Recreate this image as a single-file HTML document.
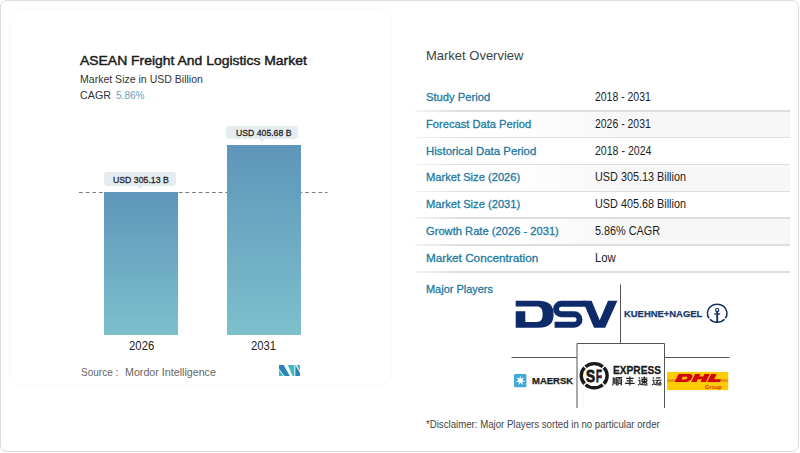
<!DOCTYPE html>
<html><head><meta charset="utf-8">
<style>
html,body{margin:0;padding:0;}
body{width:800px;height:453px;position:relative;overflow:hidden;background:#fff;font-family:"Liberation Sans",sans-serif;color:#222;}
.abs{position:absolute;white-space:nowrap;}
#frame{position:absolute;left:0;top:0;width:797.4px;height:450.4px;border:1.3px solid #dcdcdc;border-radius:7px;}
#card{position:absolute;left:11px;top:9px;width:380px;height:376px;border-radius:13px;background:#fff;box-shadow:0 0 3px rgba(0,0,0,0.06);}
.t{position:absolute;white-space:nowrap;transform-origin:0 50%;line-height:1;}
.sep{position:absolute;left:415px;width:375px;height:1.5px;background:linear-gradient(90deg,rgba(222,222,222,0.35),#dedede 12%,#dedede);}
.band{position:absolute;left:415px;width:375px;background:linear-gradient(90deg,rgba(247,247,247,0) 24%,#f7f7f7 55%,#f7f7f7 100%);}
.bar{position:absolute;background:linear-gradient(180deg,#5e95ba,#7dc0cc);}
.tag{position:absolute;background:#e5ecef;border-radius:3px;}
.tag:after{content:"";position:absolute;left:50%;margin-left:-3px;bottom:-3px;border-left:3px solid transparent;border-right:3px solid transparent;border-top:3.5px solid #e5ecef;}
</style></head><body>
<div id="frame"></div>
<div id="card"></div>

<!-- chart -->
<svg class="abs" style="left:0;top:0" width="400" height="453"><line x1="79" y1="192.5" x2="327.5" y2="192.5" stroke="#7c7c7c" stroke-width="1" stroke-dasharray="3.8 2.85"/></svg>
<div class="bar" style="left:104.3px;top:192.3px;width:73.7px;height:142.4px;"></div>
<div class="bar" style="left:226.8px;top:145px;width:74.2px;height:189.7px;"></div>
<div class="tag" style="left:104.4px;top:172.4px;width:71.6px;height:14px;"></div>
<div class="tag" style="left:226.3px;top:125.5px;width:72.1px;height:13.5px;"></div>
<svg class="abs" style="left:278.8px;top:364.9px" width="21.2" height="11" viewBox="0 0 21.2 11">
 <polygon points="0,0 4.7,0 10.8,11 5.5,11 0,3.8" fill="#2b85b5"/>
 <polygon points="0,5 4.6,11 0,11" fill="#40b8c4"/>
 <polygon points="8.8,0 15.4,0 15.4,11 13.6,11" fill="#40b8c4"/>
 <polygon points="16.3,0 21.2,8 21.2,11 16.3,11" fill="#2b85b5"/>
 <polygon points="17.6,0 21.2,0 21.2,6.2" fill="#40b8c4"/>
</svg>

<!-- right -->
<div class="band" style="top:111.6px;height:25.8px"></div>
<div class="band" style="top:165.3px;height:25.8px"></div>
<div class="band" style="top:218.9px;height:25.8px"></div>

<div class="sep" style="top:110.1px"></div>
<div class="sep" style="top:136.9px"></div>
<div class="sep" style="top:163.7px"></div>
<div class="sep" style="top:190.5px"></div>
<div class="sep" style="top:217.4px"></div>
<div class="sep" style="top:244.2px"></div>
<div class="sep" style="top:271.1px"></div>

<div class="t" style="left:80.00px;top:54px;font-size:13.4px;color:#1b1b1b;transform:scaleX(1.0402);-webkit-text-stroke:0.45px #1b1b1b;">ASEAN Freight And Logistics Market</div>
<div class="t" style="left:80.00px;top:74px;font-size:10.9px;color:#333;transform:scaleX(0.9670);">Market Size in USD Billion</div>
<div class="t" style="left:80.00px;top:90px;font-size:11.2px;color:#333;transform:scaleX(0.9577);">CAGR</div>
<div class="t" style="left:116.40px;top:90px;font-size:11.2px;color:#6a9fbd;transform:scaleX(0.9007);">5.86%</div>
<div class="t" style="left:112.60px;top:175px;font-size:9.8px;color:#1f1f1f;transform:scaleX(0.8904);-webkit-text-stroke:0.3px #1f1f1f;">USD 305.13 B</div>
<div class="t" style="left:235.90px;top:128px;font-size:9.8px;color:#1f1f1f;transform:scaleX(0.8856);-webkit-text-stroke:0.3px #1f1f1f;">USD 405.68 B</div>
<div class="t" style="left:128.50px;top:340px;font-size:12.2px;color:#222;transform:scaleX(0.9320);">2026</div>
<div class="t" style="left:251.30px;top:340px;font-size:12.2px;color:#222;transform:scaleX(0.9247);">2031</div>
<div class="t" style="left:81.40px;top:367px;font-size:11.2px;color:#666;transform:scaleX(0.8953);">Source :</div>
<div class="t" style="left:124.60px;top:367px;font-size:11.2px;color:#666;transform:scaleX(0.9553);">Mordor Intelligence</div>
<div class="t" style="left:426.25px;top:50px;font-size:12.6px;color:#3a3f47;transform:scaleX(1.0311);">Market Overview</div>
<div class="t" style="left:425.70px;top:91px;font-size:11.6px;color:#21799f;transform:scaleX(0.9682);-webkit-text-stroke:0.3px #21799f;">Study Period</div>
<div class="t" style="left:595.20px;top:91px;font-size:12px;color:#1c1c1c;transform:scaleX(0.8708);">2018 - 2031</div>
<div class="t" style="left:425.70px;top:118px;font-size:11.6px;color:#21799f;transform:scaleX(0.9606);-webkit-text-stroke:0.3px #21799f;">Forecast Data Period</div>
<div class="t" style="left:595.20px;top:118px;font-size:12px;color:#1c1c1c;transform:scaleX(0.8708);">2026 - 2031</div>
<div class="t" style="left:425.70px;top:145px;font-size:11.6px;color:#21799f;transform:scaleX(0.9833);-webkit-text-stroke:0.3px #21799f;">Historical Data Period</div>
<div class="t" style="left:595.20px;top:145px;font-size:12px;color:#1c1c1c;transform:scaleX(0.8801);">2018 - 2024</div>
<div class="t" style="left:425.70px;top:171px;font-size:11.6px;color:#21799f;transform:scaleX(0.9620);-webkit-text-stroke:0.3px #21799f;">Market Size (2026)</div>
<div class="t" style="left:595.20px;top:171px;font-size:12px;color:#1c1c1c;transform:scaleX(0.9033);">USD 305.13 Billion</div>
<div class="t" style="left:425.70px;top:198px;font-size:11.6px;color:#21799f;transform:scaleX(0.9620);-webkit-text-stroke:0.3px #21799f;">Market Size (2031)</div>
<div class="t" style="left:595.20px;top:198px;font-size:12px;color:#1c1c1c;transform:scaleX(0.9033);">USD 405.68 Billion</div>
<div class="t" style="left:425.70px;top:225px;font-size:11.6px;color:#21799f;transform:scaleX(0.9632);-webkit-text-stroke:0.3px #21799f;">Growth Rate (2026 - 2031)</div>
<div class="t" style="left:595.20px;top:225px;font-size:12px;color:#1c1c1c;transform:scaleX(0.9034);">5.86% CAGR</div>
<div class="t" style="left:425.70px;top:252px;font-size:11.6px;color:#21799f;transform:scaleX(1.0127);-webkit-text-stroke:0.3px #21799f;">Market Concentration</div>
<div class="t" style="left:595.20px;top:252px;font-size:12px;color:#1c1c1c;transform:scaleX(0.9446);">Low</div>
<div class="t" style="left:426.00px;top:283px;font-size:11.6px;color:#21799f;transform:scaleX(0.9445);-webkit-text-stroke:0.3px #21799f;">Major Players</div>
<div class="t" style="left:425.70px;top:419px;font-size:10.5px;color:#444;transform:scaleX(0.9186);">*Disclaimer: Major Players sorted in no particular order</div>

<svg class="abs" style="left:0;top:0" width="800" height="453" viewBox="0 0 800 453">
 <!-- grid lines -->
 <g stroke="#555" stroke-width="1" fill="none">
  <line x1="620.5" y1="284.5" x2="620.5" y2="343.5"/>
  <line x1="511.5" y1="357.5" x2="577" y2="357.5"/>
  <line x1="664" y1="357.5" x2="729.5" y2="357.5"/>
  <path d="M577,408 V343.5 H664.5 V408"/>
 </g>
 <!-- DSV -->
 <g fill="#0e2b69">
  <path d="M515.7,300.7 H538 C549.5,300.7 553.6,305.5 553.6,314.2 C553.6,323 549.5,327.7 538,327.7 H515.7 V311.2 H525.3 V321.9 H536.5 C541,321.9 542.6,319.5 542.6,314.2 C542.6,309 541,306.5 536.5,306.5 H515.7 Z"/>
  <polygon points="582.7,300.8 591.6,300.8 599.7,320.3 608,300.8 617.4,300.8 605.2,327.8 594,327.8"/>
 </g>
 <path d="M586,303.7 H561.3 A5.3,5.3 0 0 0 561.3,314.3 H574.3 A5.25,5.25 0 0 1 574.3,324.8 H554.6" fill="none" stroke="#0e2b69" stroke-width="5.9"/>
 <!-- Kuehne+Nagel anchor -->
 <g fill="none" stroke="#14305f">
  <path d="M724.54,319.16 A9.8,9.0 0 0 1 709.86,319.16 M709.08,318.23 A9.8,9.0 0 1 1 725.32,318.23" stroke-width="1.5"/>
  <circle cx="717.2" cy="310.1" r="1.6" stroke-width="1.2"/>
  <line x1="717.2" y1="311.8" x2="717.2" y2="322.5" stroke-width="1.9"/>
  <line x1="714.2" y1="314" x2="720.2" y2="314" stroke-width="1.3"/>
 </g>
 <!-- Maersk -->
 <rect x="514" y="373.9" width="12.4" height="13.4" rx="1.2" fill="#41a9d6"/>
 <polygon fill="#fff" points="520.2,375.6 521.1,378.7 523.9,377.3 522.3,380.1 525.2,381.4 522.1,381.8 523,384.9 520.6,382.8 518.4,385.1 518.9,381.9 515.7,381.8 518.4,380.1 516.6,377.4 519.5,378.6"/>
 <!-- SF -->
 <path d="M602.83,384.72 A12.95,12.1 0 0 1 585.57,384.72 M584.55,383.77 A12.95,12.1 0 0 1 584.55,367.63 M585.57,366.68 A12.95,12.1 0 0 1 602.83,366.68 M603.85,367.63 A12.95,12.1 0 0 1 603.85,383.77" fill="none" stroke="#1a1a1a" stroke-width="3.4"/>
 <!-- DHL -->
 <rect x="667" y="371.9" width="61.2" height="18.2" fill="#ffcb05"/>
 <rect x="667" y="379.4" width="10" height="2.4" fill="#e8901a"/>
 <rect x="718" y="379.4" width="10.2" height="2.4" fill="#e8901a"/>
 <g transform="translate(674.6,382) skewX(-27) scale(1.0976,1)" fill="#d40511">
  <path d="M0,0 V-7.9 H9 C13,-7.9 14,-6 14,-4 C14,-1.5 12.5,0 9,0 Z M5,-2.6 H8.2 C9.3,-2.6 9.6,-3.2 9.6,-4 C9.6,-4.8 9.3,-5.3 8.2,-5.3 H5 Z"/>
  <path d="M15,0 V-7.9 H20 V-5.4 H23.5 V-7.9 H28.5 V0 H23.5 V-2.7 H20 V0 Z"/>
  <path d="M29.7,0 V-7.9 H34.7 V-2.7 H41 V0 Z"/>
 </g>
 <!-- Chinese glyph approximations -->
 <g stroke="#222" stroke-width="1.25" fill="none">
  <path transform="translate(612.5,376.6) scale(0.95,0.9)" d="M0.8,0.8 V6.5 Q0.8,8.5 0,9.7 M2.4,1.2 V8.2 M4.0,0.5 V9.8 M5,1 H10 M7.6,1 L7.1,2.5 M5.6,2.7 H9.4 V7.2 H5.6 Z M5.6,4.95 H9.4 M6.8,7.4 L5.1,9.7 M8.2,7.4 L10,9.7"/>
  <path transform="translate(625.1,376.6) scale(0.95,0.9)" d="M1,2 H9 M1.6,4.8 H8.4 M0,7.5 H10 M5,0 V10"/>
  <path transform="translate(638.0,376.6) scale(0.95,0.9)" d="M0.8,0.8 L2.1,2.1 M0.2,4 H2 V7.6 M0,9.7 Q1.2,7.7 2.4,8.4 Q4,9.4 10,9.2 M3.4,1.6 H10 M6.7,0 V8 M4.2,3.3 H9.2 V5.5 H4.2 Z M6.7,5.5 L3.8,7.9 M6.7,5.5 L9.8,7.9"/>
  <path transform="translate(652.0,376.6) scale(0.95,0.9)" d="M0.8,0.8 L2.1,2.1 M0.2,4 H2 V7.6 M0,9.7 Q1.2,7.7 2.4,8.4 Q4,9.4 10,9.2 M4.4,1.4 H9 M3.4,4 H10 M6.4,4 L4.5,7.4 H9.3 M8,5.6 L9.8,7.9"/>
 </g>
</svg>
<div class="t" style="left:623.70px;top:310px;font-size:9.1px;color:#173a6e;transform:scaleX(1.0361);font-weight:bold;-webkit-text-stroke:0.25px #173a6e;">KUEHNE+NAGEL</div>
<div class="t" style="left:532.00px;top:377px;font-size:8.4px;color:#1a1a1a;transform:scaleX(1.1314);font-weight:bold;-webkit-text-stroke:0.25px #1a1a1a;">MAERSK</div>
<div class="t" style="left:585.60px;top:369px;font-size:16px;color:#1a1a1a;transform:scaleX(0.8459);font-weight:bold;-webkit-text-stroke:0.9px #1a1a1a;">S</div>
<div class="t" style="left:596.30px;top:369px;font-size:16px;color:#1a1a1a;transform:scaleX(0.6045);font-weight:bold;-webkit-text-stroke:0.9px #1a1a1a;">F</div>
<div class="t" style="left:613.00px;top:365px;font-size:11.3px;color:#1a1a1a;transform:scaleX(0.8990);font-weight:bold;-webkit-text-stroke:0.3px #1a1a1a;">EXPRESS</div>
<div class="t" style="left:705.20px;top:385px;font-size:5px;color:#d8321a;transform:scaleX(1.1133);font-weight:bold;">Group</div>
<div class="abs" style="left:599.5px;top:374.8px;width:2.7px;height:2.7px;border-radius:50%;background:#cc1040"></div>

</body></html>
